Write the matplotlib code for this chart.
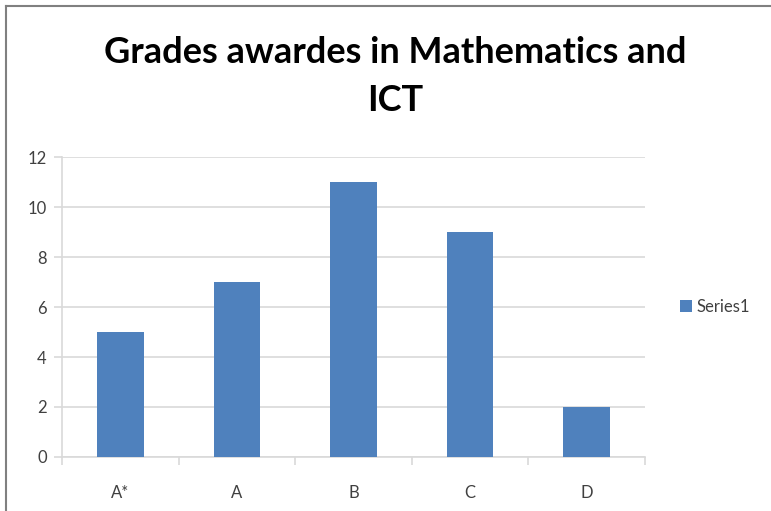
import matplotlib
matplotlib.use("Agg")
import matplotlib.pyplot as plt
from matplotlib.lines import Line2D

# chart data
grades = ["A*", "A", "B", "C", "D"]
counts = [5, 7, 11, 9, 2]
y_ticks = [0, 2, 4, 6, 8, 10, 12]
title = "Grades awardes in Mathematics and\nICT"

bar_color = "#4f81bd"
grid_color = "#d9d9d9"
text_color = "#404040"

plt.rcParams["font.family"] = ["Lato", "DejaVu Sans"]

fig = plt.figure(figsize=(7.71, 5.11), dpi=100)
ax = fig.add_axes([0.0804, 0.1057, 0.756, 0.587])

x = range(len(grades))
ax.bar(x, counts, width=0.4, color=bar_color, label="Series1", zorder=3)

ax.set_xlim(-0.5, len(grades) - 0.5)
ax.set_ylim(0, 12)
ax.set_yticks(y_ticks)
ax.set_xticks(list(x))
ax.set_xticklabels(grades)
ax.set_xticks([i - 0.5 for i in range(len(grades) + 1)], minor=True)

ax.grid(axis="y", color=grid_color, linewidth=1.2, zorder=0)
for side in ["top", "right"]:
    ax.spines[side].set_visible(False)
for side in ["left", "bottom"]:
    ax.spines[side].set_color(grid_color)
    ax.spines[side].set_linewidth(1.2)

ax.tick_params(axis="y", length=6, color=grid_color, width=1.2,
               labelsize=12, labelcolor=text_color, pad=5)
ax.tick_params(axis="x", which="major", length=0, labelsize=12,
               labelcolor=text_color, pad=20)
ax.tick_params(axis="x", which="minor", length=6, color=grid_color, width=1.2)

fig.text(0.513, 0.851, title, ha="center", va="center", fontsize=26,
         fontweight="bold", color="black", linespacing=1.55)

ax.legend(loc="center left", bbox_to_anchor=(1.035, 0.5), frameon=False,
          fontsize=12, labelcolor=text_color, handlelength=0.7,
          handleheight=0.7, handletextpad=0.3)

# chart frame (left and top edges visible in the reference)
fig.add_artist(Line2D([0.008, 0.008], [0.0, 0.988], transform=fig.transFigure,
                      color="#808080", linewidth=1.5))
fig.add_artist(Line2D([0.008, 1.0], [0.988, 0.988], transform=fig.transFigure,
                      color="#808080", linewidth=1.5))

fig.savefig("out.png", dpi=100)
